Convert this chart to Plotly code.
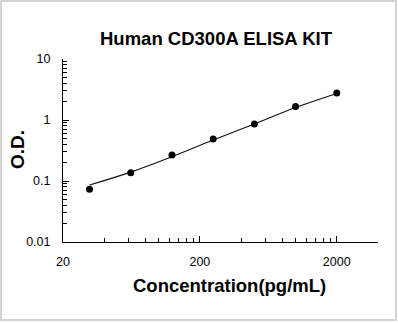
import math
import plotly.graph_objects as go

# Data
conc = [31.25, 62.5, 125, 250, 500, 1000, 2000]
od = [0.073, 0.137, 0.268, 0.488, 0.86, 1.66, 2.78]
fit_od = [0.086, 0.14, 0.25, 0.47, 0.86, 1.6, 2.72]

x_major = [20, 200, 2000]
x_major_text = ["20", "200", "2000"]
x_minor = [40, 60, 80, 100, 120, 140, 160, 180,
           400, 600, 800, 1000, 1200, 1400, 1600, 1800, 4000]
y_major = [0.01, 0.1, 1, 10]
y_major_text = ["0.01", "0.1", "1", "10"]
y_minor = [0.02, 0.03, 0.04, 0.05, 0.06, 0.07, 0.08, 0.09,
           0.2, 0.3, 0.4, 0.5, 0.6, 0.7, 0.8, 0.9,
           2, 3, 4, 5, 6, 7, 8, 9]

FONT = "Liberation Sans, Arial, sans-serif"
W, H = 398, 323
L, R, T, B = 63, 20, 59, 81
PW, PH = W - L - R, H - T - B

fig = go.Figure()
fig.add_trace(go.Scatter(x=conc, y=fit_od, mode="lines",
                         line=dict(color="#111111", width=1.2, shape="spline"),
                         showlegend=False, hoverinfo="skip"))
fig.add_trace(go.Scatter(x=conc, y=od, mode="markers",
                         marker=dict(color="black", size=7),
                         showlegend=False))

fig.update_layout(
    width=W, height=H,
    margin=dict(l=L, r=R, t=T, b=B, pad=0),
    paper_bgcolor="white", plot_bgcolor="white",
    font=dict(family=FONT, color="black", size=12),
    xaxis=dict(type="log", range=[math.log10(20), math.log10(4000) + 1e-4],
               tickmode="array", tickvals=x_major, ticktext=x_major_text,
               ticks="inside", ticklen=6, tickcolor="black", tickwidth=1,
               showline=True, linecolor="black", linewidth=1,
               showgrid=False, zeroline=False, ticklabelstandoff=8,
               tickfont=dict(size=12.5, family=FONT),
               minor=dict(tickmode="array", tickvals=x_minor, ticks="inside",
                          ticklen=4, tickcolor="black", tickwidth=1, showgrid=False)),
    yaxis=dict(type="log", range=[-2, 1],
               tickmode="array", tickvals=y_major, ticktext=y_major_text,
               ticks="inside", ticklen=6, tickcolor="black", tickwidth=1,
               showline=True, linecolor="black", linewidth=1,
               showgrid=False, zeroline=False, ticklabelstandoff=9,
               tickfont=dict(size=12.5, family=FONT),
               minor=dict(tickmode="array", tickvals=y_minor, ticks="inside",
                          ticklen=4, tickcolor="black", tickwidth=1, showgrid=False)),
    annotations=[
        dict(text="<b>Human CD300A ELISA KIT</b>", xref="paper", yref="paper",
             x=(216 - L) / PW, y=(H - B - 38) / PH, xanchor="center", yanchor="middle",
             showarrow=False, font=dict(size=18.5, family=FONT)),
        dict(text="<b>Concentration(pg/mL)</b>", xref="paper", yref="paper",
             x=(229 - L) / PW, y=(H - B - 285) / PH, xanchor="center", yanchor="middle",
             showarrow=False, font=dict(size=18.5, family=FONT)),
        dict(text="<b>O.D.</b>", xref="paper", yref="paper", textangle=-90,
             x=(17 - L) / PW, y=(H - B - 150) / PH, xanchor="center", yanchor="middle",
             showarrow=False, font=dict(size=19, family=FONT)),
    ],
    shapes=[dict(type="rect", xref="paper", yref="paper",
                 x0=(1 - L) / PW, x1=(396 - L) / PW,
                 y0=(H - B - 320) / PH, y1=(H - B - 1) / PH,
                 line=dict(color="#d4d4d4", width=2), fillcolor="rgba(0,0,0,0)",
                 layer="below")],
)

fig.write_html("out.html")
